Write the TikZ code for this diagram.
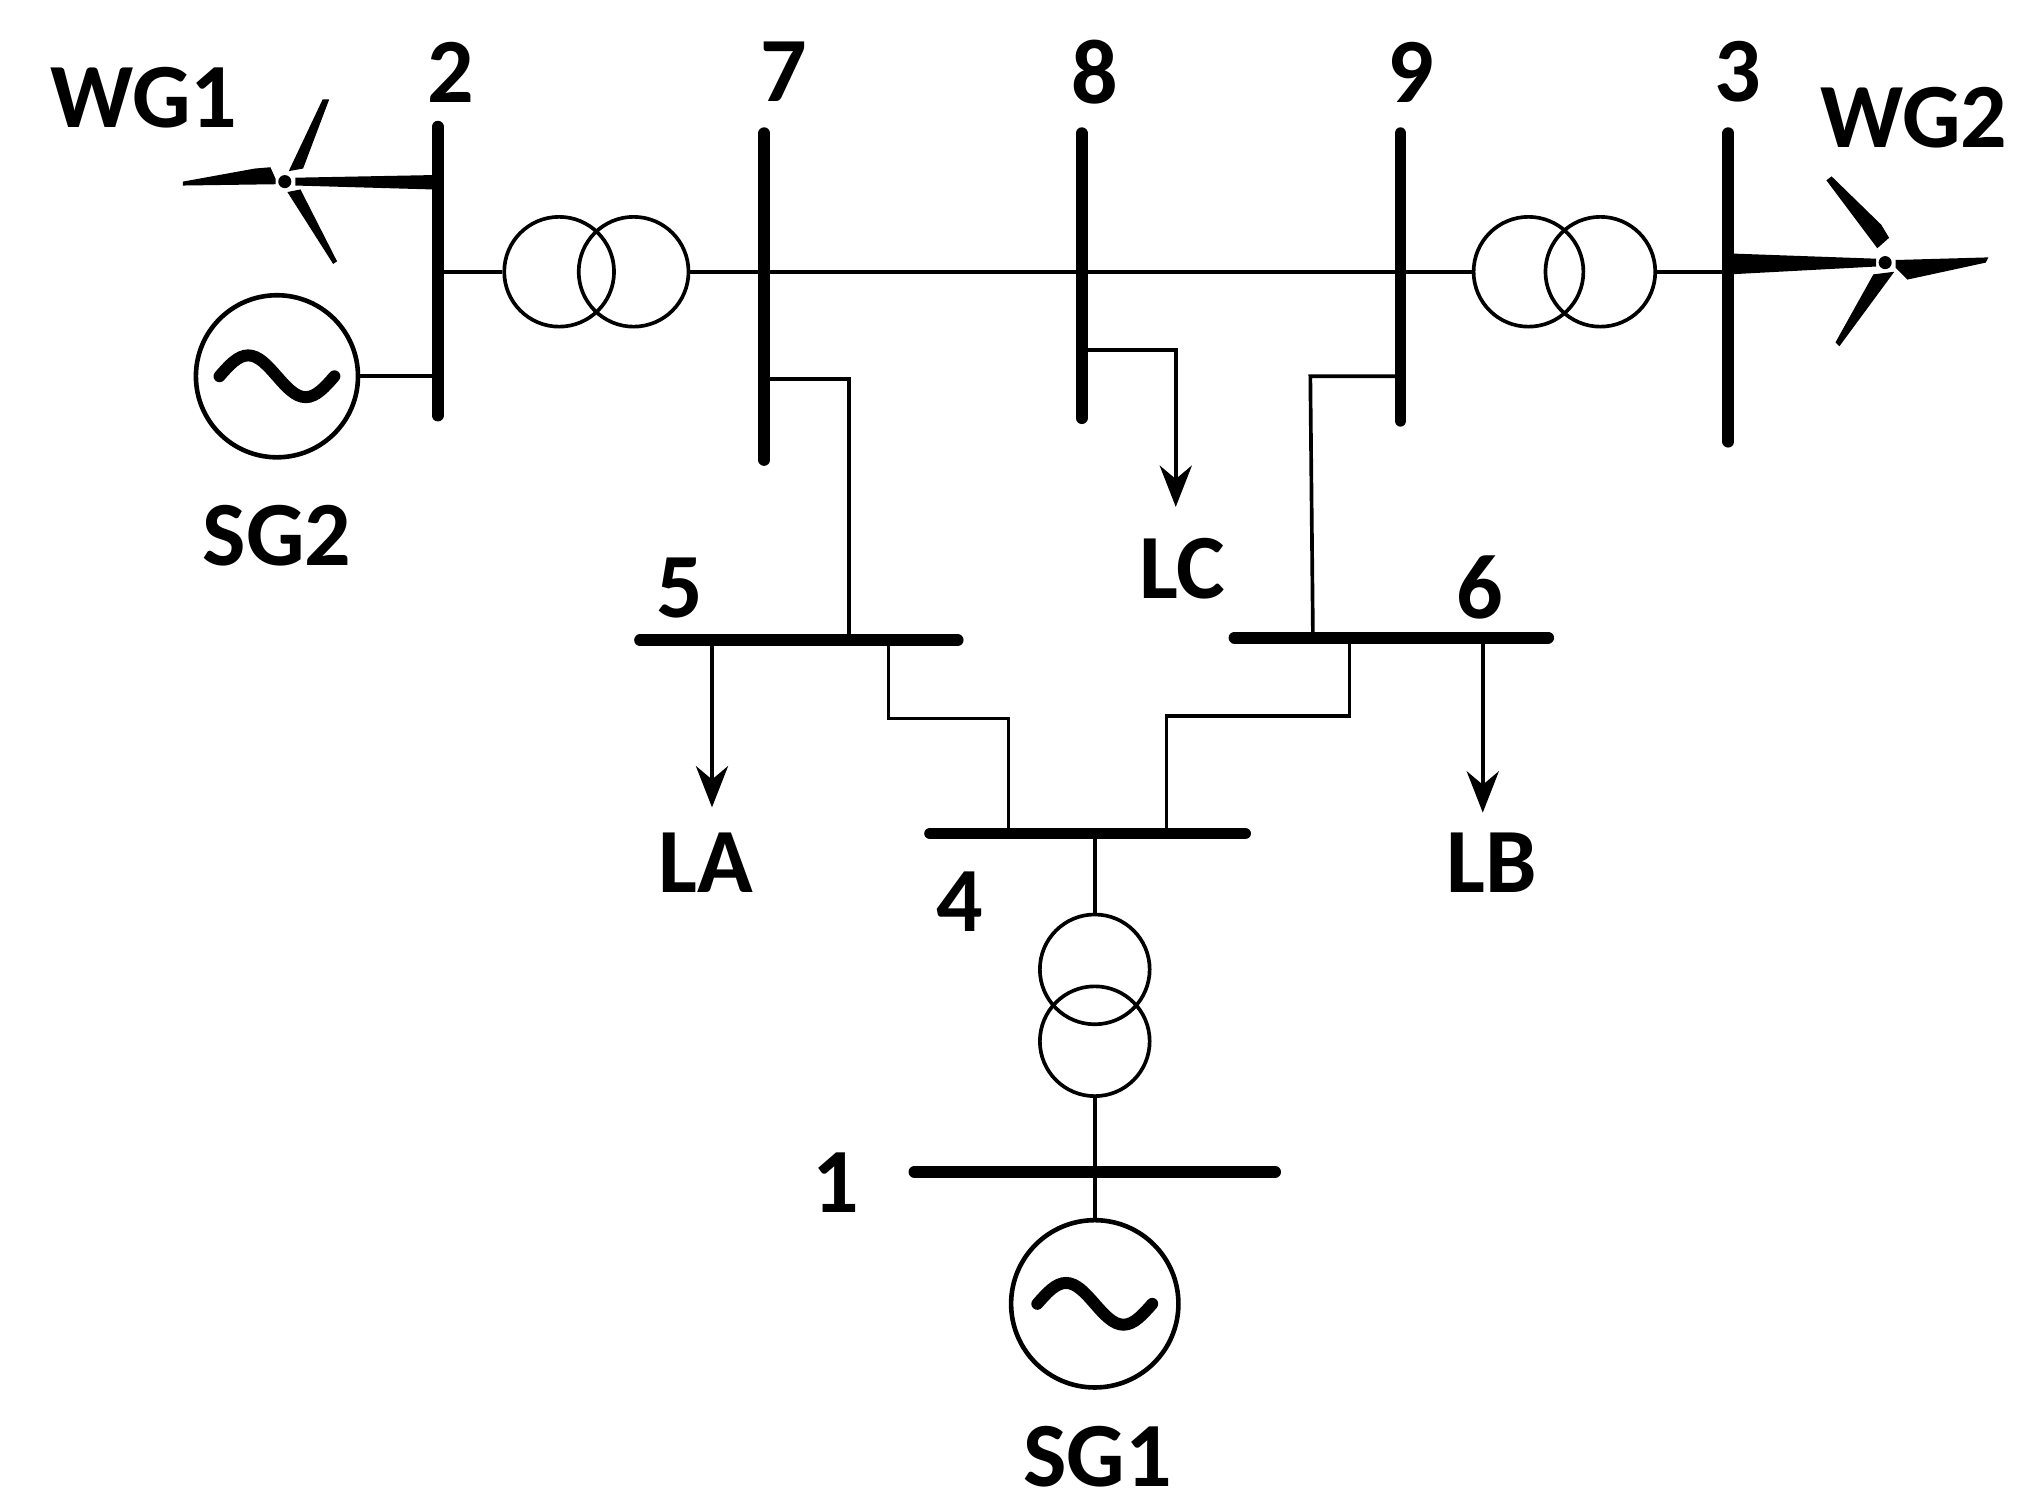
\documentclass[tikz,border=0pt]{standalone}
\usepackage{fontspec}
\setmainfont{Carlito}
\usetikzlibrary{arrows.meta}
\begin{document}
\begin{tikzpicture}[x=0.01cm,y=-0.01cm,
  bus/.style={line width=2.6pt,line cap=round},
  ln/.style={line width=0.8pt},
  ld/.style={line width=0.8pt,-{Stealth[length=9pt,width=7pt]}},
  tr/.style={circle,draw,line width=0.8pt,minimum size=0.84cm,inner sep=0pt},
  gen/.style={circle,draw,line width=1pt,inner sep=0pt},
  wave/.style={line width=2.6pt,line cap=round},
  lab/.style={font=\fontsize{20}{24}\selectfont\bfseries},
  blade/.style={fill=black}]
\useasboundingbox (0,0) rectangle (1560,1150);
% buses
\draw[bus] (335,97) -- (335,318);
\draw[bus] (585,102) -- (585,352);
\draw[bus] (828,102) -- (828,320);
\draw[bus] (1072,102) -- (1072,322);
\draw[bus] (1323,102) -- (1323,338);
\draw[bus] (490,490) -- (733,490);
\draw[bus] (945,488) -- (1185,488);
\draw[bus] (712,638) -- (953,638);
\draw[bus] (700,897) -- (976,897);
% labels
\node[lab] at (345,55) {2};
\node[lab] at (600,55) {7};
\node[lab] at (838,55) {8};
\node[lab] at (1080,55) {9};
\node[lab] at (1330,55) {3};
\node[lab] at (110,75) {WG1};
\node[lab] at (1465,90) {WG2};
\node[lab] at (212,410) {SG2};
\node[lab] at (905,435) {LC};
\node[lab] at (520,450) {5};
\node[lab] at (1133,450) {6};
\node[lab] at (540,660) {LA};
\node[lab] at (1142,660) {LB};
\node[lab] at (735,690) {4};
\node[lab] at (640,905) {1};
\node[lab] at (840,1115) {SG1};
% transformers
\node[tr] (t1a) at (428,208) {};
\node[tr] (t1b) at (485,208) {};
\node[tr] (t2a) at (1170,208) {};
\node[tr] (t2b) at (1225,208) {};
\node[tr] (t3a) at (838,742) {};
\node[tr] (t3b) at (838,797) {};
% generators
\node[gen,minimum size=1.24cm] (sg2) at (212,288) {};
\node[gen,minimum size=1.28cm] (sg1) at (838,998) {};
\draw[wave] (sg2.center) ++(-44,0) sin ++(22,-16) cos ++(22,16) sin ++(22,16) cos ++(22,-16);
\draw[wave] (sg1.center) ++(-44,0) sin ++(22,-16) cos ++(22,16) sin ++(22,16) cos ++(22,-16);
% lines
\draw[ln] (335,208) -- (t1a.west);
\draw[ln] (t1b.east) -- (585,208) -- (1072,208) -- (t2a.west);
\draw[ln] (t2b.east) -- (1323,208);
\draw[ln] (sg2.east) -- (335,288);
\draw[ld] (828,268) -- (900,268) -- (900,388);
\draw[ln] (585,290) -- (650,290) -- (650,490);
\draw[ld] (545,490) -- (545,618);
\draw[ln] (1072,288) -- (1003,288) -- (1005,488);
\draw[ld] (1135,488) -- (1135,622);
\draw[ln] (680,490) -- (680,550) -- (772,550) -- (772,638);
\draw[ln] (1033,488) -- (1033,548) -- (893,548) -- (893,638);
\draw[ln] (838,638) -- (t3a.north);
\draw[ln] (t3b.south) -- (838,897) -- (sg1.north);
% WG1
\coordinate (h1) at (218,139);
\fill (h1) circle (5);
\fill[blade] (221,131) -- (232,129) -- (252,76) -- (247,76) -- cycle;
\fill[blade] (211,137) -- (207,128) -- (195,129) -- (140,139) -- (140,142) -- (211,141) -- cycle;
\fill[blade] (220,147) -- (230,145) -- (258,200) -- (255,202) -- cycle;
\fill[blade] (226,136) -- (331,134) -- (331,145) -- (226,142) -- cycle;
% WG2
\coordinate (h2) at (1443,201);
\fill (h2) circle (5);
\fill[blade] (1437,190) -- (1446,182) -- (1440,172) -- (1402,135) -- (1398,138) -- cycle;
\fill[blade] (1434,210) -- (1450,208) -- (1408,265) -- (1405,262) -- cycle;
\fill[blade] (1451,199) -- (1522,197) -- (1520,201) -- (1460,214) -- (1451,205) -- cycle;
\fill[blade] (1324,194) -- (1436,198) -- (1436,204) -- (1324,210) -- cycle;
\end{tikzpicture}
\end{document}
